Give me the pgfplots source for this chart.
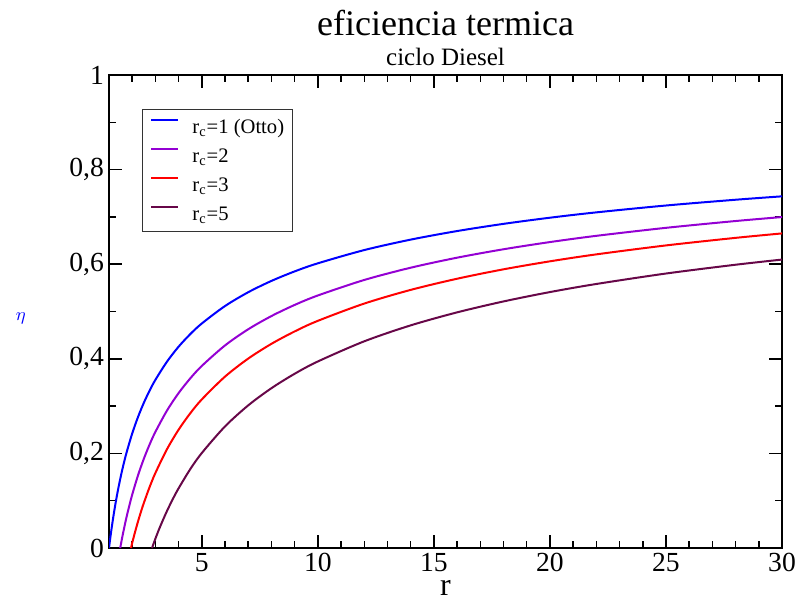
\documentclass[border=0pt]{standalone}
\usepackage{fontspec}
\setmainfont{Liberation Serif}
\usepackage{pgfplots}
\pgfplotsset{compat=1.18}
\definecolor{gviolet}{RGB}{148,0,211}
\definecolor{gmaroon}{RGB}{103,7,72}

\begin{document}
\begin{tikzpicture}
\begin{axis}[
  name=ax,
  scale only axis,
  width=336.5pt, height=236.5pt,
  xmin=1, xmax=30, ymin=0, ymax=1,
  xtick={5,10,15,20,25,30},
  minor xtick={2,3,4,6,7,8,9,11,12,13,14,16,17,18,19,21,22,23,24,26,27,28,29},
  ytick={0,0.2,0.4,0.6,0.8,1},
  minor ytick={0.1,0.3,0.5,0.7,0.9},
  tick align=inside,
  major tick length=6.5pt, minor tick length=3.5pt,
  every tick/.style={black, line width=0.75pt},
  axis line style={line width=0.75pt},
  ticklabel style={font=\fontsize{13.8}{16}\selectfont},
  xticklabel style={yshift=1pt},
  yticklabel style={xshift=1pt},
  /pgf/number format/assume math mode=true,
  /pgf/number format/use comma,
  xlabel={r},
  xlabel style={font=\fontsize{16}{18}\selectfont, at={(axis description cs:0.5,-0.0994)}, anchor=base},
  ylabel={$\eta$},
  ylabel style={rotate=-90, text=blue, font=\fontsize{9}{10}\selectfont, at={(axis description cs:-0.131,0.486)}, anchor=center},
  legend cell align=left,
  legend image code/.code={\draw[#1] (0pt,3.3pt) -- (13.5pt,3.3pt);},
  legend style={at={(0.049,0.928)}, anchor=north west, draw=black!80, line width=0.5pt,
    font=\fontsize{10.3}{12}\selectfont, inner xsep=4pt, inner ysep=1.5pt,
    row sep=0pt, /tikz/column sep=6.5pt,
    nodes={inner sep=0pt, text height=10.5pt, text depth=4pt}},
  every axis plot/.append style={line width=1pt, smooth},
]
% eta = 1 - C r^{-0.4}, values tabulated
\addplot[blue] coordinates {
(1,0) (1.05,0.0193) (1.1,0.0374) (1.2,0.0703) (1.3,0.0996) (1.4,0.1259) (1.5,0.1497)
(1.6,0.1714) (1.75,0.2006) (2,0.2421) (2.25,0.2770) (2.5,0.3069) (2.75,0.3328)
(3,0.3556) (3.5,0.3941) (4,0.4257) (4.5,0.4521) (5,0.4747) (6,0.5116) (7,0.5408)
(8,0.5647) (9,0.5848) (10,0.6019) (12,0.6299) (14,0.6520) (16,0.6701) (18,0.6853)
(20,0.6983) (22,0.7096) (25,0.7241) (28,0.7363) (30,0.7435)};
\addlegendentry{r\textsubscript{c}=1 (Otto)}
\addplot[gviolet] coordinates {
(1.483,0) (1.5,0.0045) (1.55,0.0175) (1.6,0.0299) (1.7,0.0532) (1.75,0.0641)
(1.85,0.0846) (2,0.1128) (2.25,0.1536) (2.5,0.1885) (2.75,0.2189) (3,0.2456)
(3.5,0.2907) (4,0.3276) (4.5,0.3585) (5,0.3850) (6,0.4283) (7,0.4625) (8,0.4904)
(9,0.5139) (10,0.5339) (12,0.5667) (14,0.5926) (16,0.6138) (18,0.6316) (20,0.6468)
(22,0.6600) (25,0.6769) (28,0.6913) (30,0.6997)};
\addlegendentry{r\textsubscript{c}=2}
\addplot[red] coordinates {
(1.9475,0) (2,0.0106) (2.1,0.0297) (2.25,0.0561) (2.4,0.0802) (2.5,0.0951)
(2.75,0.1289) (3,0.1587) (3.5,0.2090) (4,0.2502) (4.5,0.2847) (5,0.3142)
(6,0.3624) (7,0.4005) (8,0.4317) (9,0.4579) (10,0.4803) (12,0.5168) (14,0.5457)
(16,0.5693) (18,0.5892) (20,0.6061) (22,0.6208) (25,0.6397) (28,0.6557) (30,0.6651)};
\addlegendentry{r\textsubscript{c}=3}
\addplot[gmaroon] coordinates {
(2.8537,0) (3,0.0198) (3.1,0.0326) (3.25,0.0507) (3.5,0.0784) (3.75,0.1035)
(4,0.1263) (4.5,0.1666) (5,0.2009) (6,0.2571) (7,0.3016) (8,0.3379) (9,0.3684)
(10,0.3944) (12,0.4370) (14,0.4707) (16,0.4982) (18,0.5213) (20,0.5411)
(22,0.5582) (25,0.5803) (28,0.5989) (30,0.6098)};
\addlegendentry{r\textsubscript{c}=5}
\end{axis}
\node[anchor=base, font=\fontsize{18}{20}\selectfont] at ([yshift=20pt]ax.north) {eficiencia termica};
\node[anchor=base, font=\fontsize{12.5}{14}\selectfont] at ([yshift=5pt]ax.north) {ciclo Diesel};
\pgfresetboundingbox
\path[use as bounding box] ([xshift=-54.5pt,yshift=-24pt]ax.south west) rectangle ([xshift=15pt,yshift=37.5pt]ax.north east);
\end{tikzpicture}
\end{document}
